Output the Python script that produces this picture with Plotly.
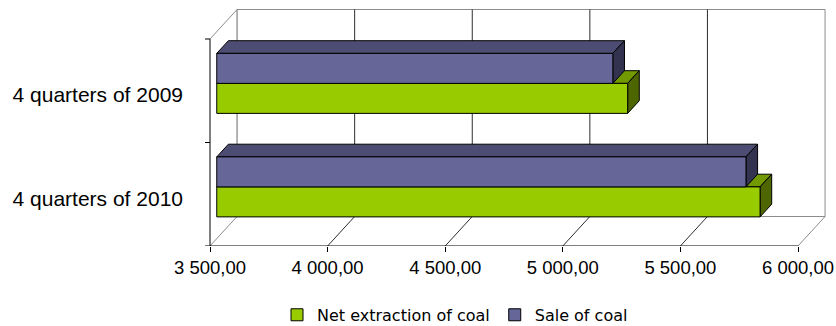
import plotly.graph_objects as go

# Category labels, top to bottom, and the two series (tonnes)
categories = ["4 quarters of 2009", "4 quarters of 2010"]
net_extraction = [5247, 5810]
sale = [5184, 5750]
tick_values = [3500, 4000, 4500, 5000, 5500, 6000]

# Series styling: front / top / side face colours
GREEN = ("#99cc00", "#739900", "#4d6600")
PURPLE = ("#666699", "#4d4d73", "#333350")

# --- pseudo-3D geometry (value units along x, layout units along y) ---
X_MIN, X_MAX = tick_values[0], tick_values[-1]
BAND = 103.5            # height of one category band on the front plane
TOP = BAND * len(categories)
DEPTH_X = 115.0         # depth vector of the floor/walls
DEPTH_Y = 29.5
F_FRONT, F_BACK = 0.25, 0.68   # bar front/back planes as fractions of depth
BAR_H = 30.0
LABEL_DROP = 4.0        # category labels sit slightly below the band centre

WALL = "#8c8c8c"
GRID = "#2e2e2e"


def fmt(v):
    return f"{v:,.2f}".replace(",", " ").replace(".", ",")


def line(x0, y0, x1, y1, color, width=1):
    return dict(type="line", xref="x", yref="y", x0=x0, y0=y0, x1=x1, y1=y1,
                line=dict(color=color, width=width), layer="below")


def face(points, fill):
    path = "M " + " L ".join(f"{x},{y}" for x, y in points) + " Z"
    return dict(type="path", xref="x", yref="y", path=path, fillcolor=fill,
                line=dict(color="#000000", width=1), layer="below")


shapes = []
# walls and floor outline
bx0, bx1 = X_MIN + DEPTH_X, X_MAX + DEPTH_X
shapes += [
    line(X_MIN, TOP, bx0, TOP + DEPTH_Y, WALL),          # left wall top edge
    line(bx0, TOP + DEPTH_Y, bx1, TOP + DEPTH_Y, WALL),  # back wall top edge
    line(bx1, TOP + DEPTH_Y, bx1, DEPTH_Y, WALL),        # back wall right edge
    line(bx0, DEPTH_Y, bx1, DEPTH_Y, WALL),              # floor back edge
    line(X_MIN, 0, bx0, DEPTH_Y, WALL),                  # floor left edge
    line(X_MAX, 0, bx1, DEPTH_Y, WALL),                  # floor right edge
    line(bx0, DEPTH_Y, bx0, TOP + DEPTH_Y, "#666666"),   # back wall left edge
]
# value gridlines on back wall and floor
for v in tick_values[1:-1]:
    shapes.append(line(v + DEPTH_X, DEPTH_Y, v + DEPTH_X, TOP + DEPTH_Y, GRID))
    shapes.append(line(v, 0, v + DEPTH_X, DEPTH_Y, GRID))

# front axes
px_per_unit = 0.2352
tick_w = 5 / px_per_unit
shapes.append(line(X_MIN, 0, X_MAX, 0, "#000000"))
shapes.append(line(X_MIN, 0, X_MIN, TOP, "#000000"))
for k in range(len(categories) + 1):
    shapes.append(line(X_MIN - tick_w, k * BAND, X_MIN, k * BAND, "#000000"))

# bar depth faces
ox, oy = F_FRONT * DEPTH_X, F_FRONT * DEPTH_Y
dx, dy = (F_BACK - F_FRONT) * DEPTH_X, (F_BACK - F_FRONT) * DEPTH_Y
n = len(categories)
green_y, purple_y = [], []
for i, (g, s) in enumerate(zip(net_extraction, sale)):
    yc = (n - 1 - i + 0.5) * BAND + oy
    green_y.append(yc - BAR_H / 2)
    purple_y.append(yc + BAR_H / 2)
    x0 = X_MIN + ox
    # green: top face (mostly behind the purple bar) and end face
    shapes.append(face([(x0, yc), (g + ox, yc), (g + ox + dx, yc + dy),
                        (x0 + dx, yc + dy)], GREEN[1]))
    shapes.append(face([(g + ox, yc - BAR_H), (g + ox, yc),
                        (g + ox + dx, yc + dy), (g + ox + dx, yc - BAR_H + dy)], GREEN[2]))
    # purple: top face and end face
    yt = yc + BAR_H
    shapes.append(face([(x0, yt), (s + ox, yt), (s + ox + dx, yt + dy),
                        (x0 + dx, yt + dy)], PURPLE[1]))
    shapes.append(face([(s + ox, yc), (s + ox, yt), (s + ox + dx, yt + dy),
                        (s + ox + dx, yc + dy)], PURPLE[2]))

fig = go.Figure()
fig.add_trace(go.Bar(
    name="Net extraction of coal", orientation="h",
    y=green_y, x=[v - X_MIN for v in net_extraction], base=X_MIN + ox,
    width=BAR_H, marker=dict(color=GREEN[0], line=dict(color="#000000", width=1)),
    hoverinfo="skip"))
fig.add_trace(go.Bar(
    name="Sale of coal", orientation="h",
    y=purple_y, x=[v - X_MIN for v in sale], base=X_MIN + ox,
    width=BAR_H, marker=dict(color=PURPLE[0], line=dict(color="#000000", width=1)),
    hoverinfo="skip"))

fig.update_layout(
    width=836, height=326,
    margin=dict(l=200, r=0, t=0, b=80, autoexpand=False),
    paper_bgcolor="white", plot_bgcolor="white",
    barmode="overlay",
    shapes=shapes,
    showlegend=True,
    legend=dict(orientation="h", x=(455 - 200) / 636, xanchor="center",
                y=-0.28, yanchor="middle",
                font=dict(family="DejaVu Sans", size=16, color="#000000")),
    xaxis=dict(range=[X_MIN - 10 / px_per_unit, X_MIN + 626 / px_per_unit],
               tickvals=tick_values, ticktext=[fmt(v) for v in tick_values],
               ticks="outside", ticklen=5, tickcolor="#000000",
               showgrid=False, showline=False, zeroline=False,
               tickfont=dict(family="Liberation Sans, Arial", size=18.5, color="#000000")),
    yaxis=dict(range=[0, 246],
               tickvals=[(n - 1 - i + 0.5) * BAND - LABEL_DROP for i in range(n)],
               ticktext=categories, ticks="", ticklabelstandoff=16,
               showgrid=False, showline=False, zeroline=False,
               tickfont=dict(family="Liberation Sans, Arial", size=21, color="#000000")),
)

fig.write_html("out.html")
